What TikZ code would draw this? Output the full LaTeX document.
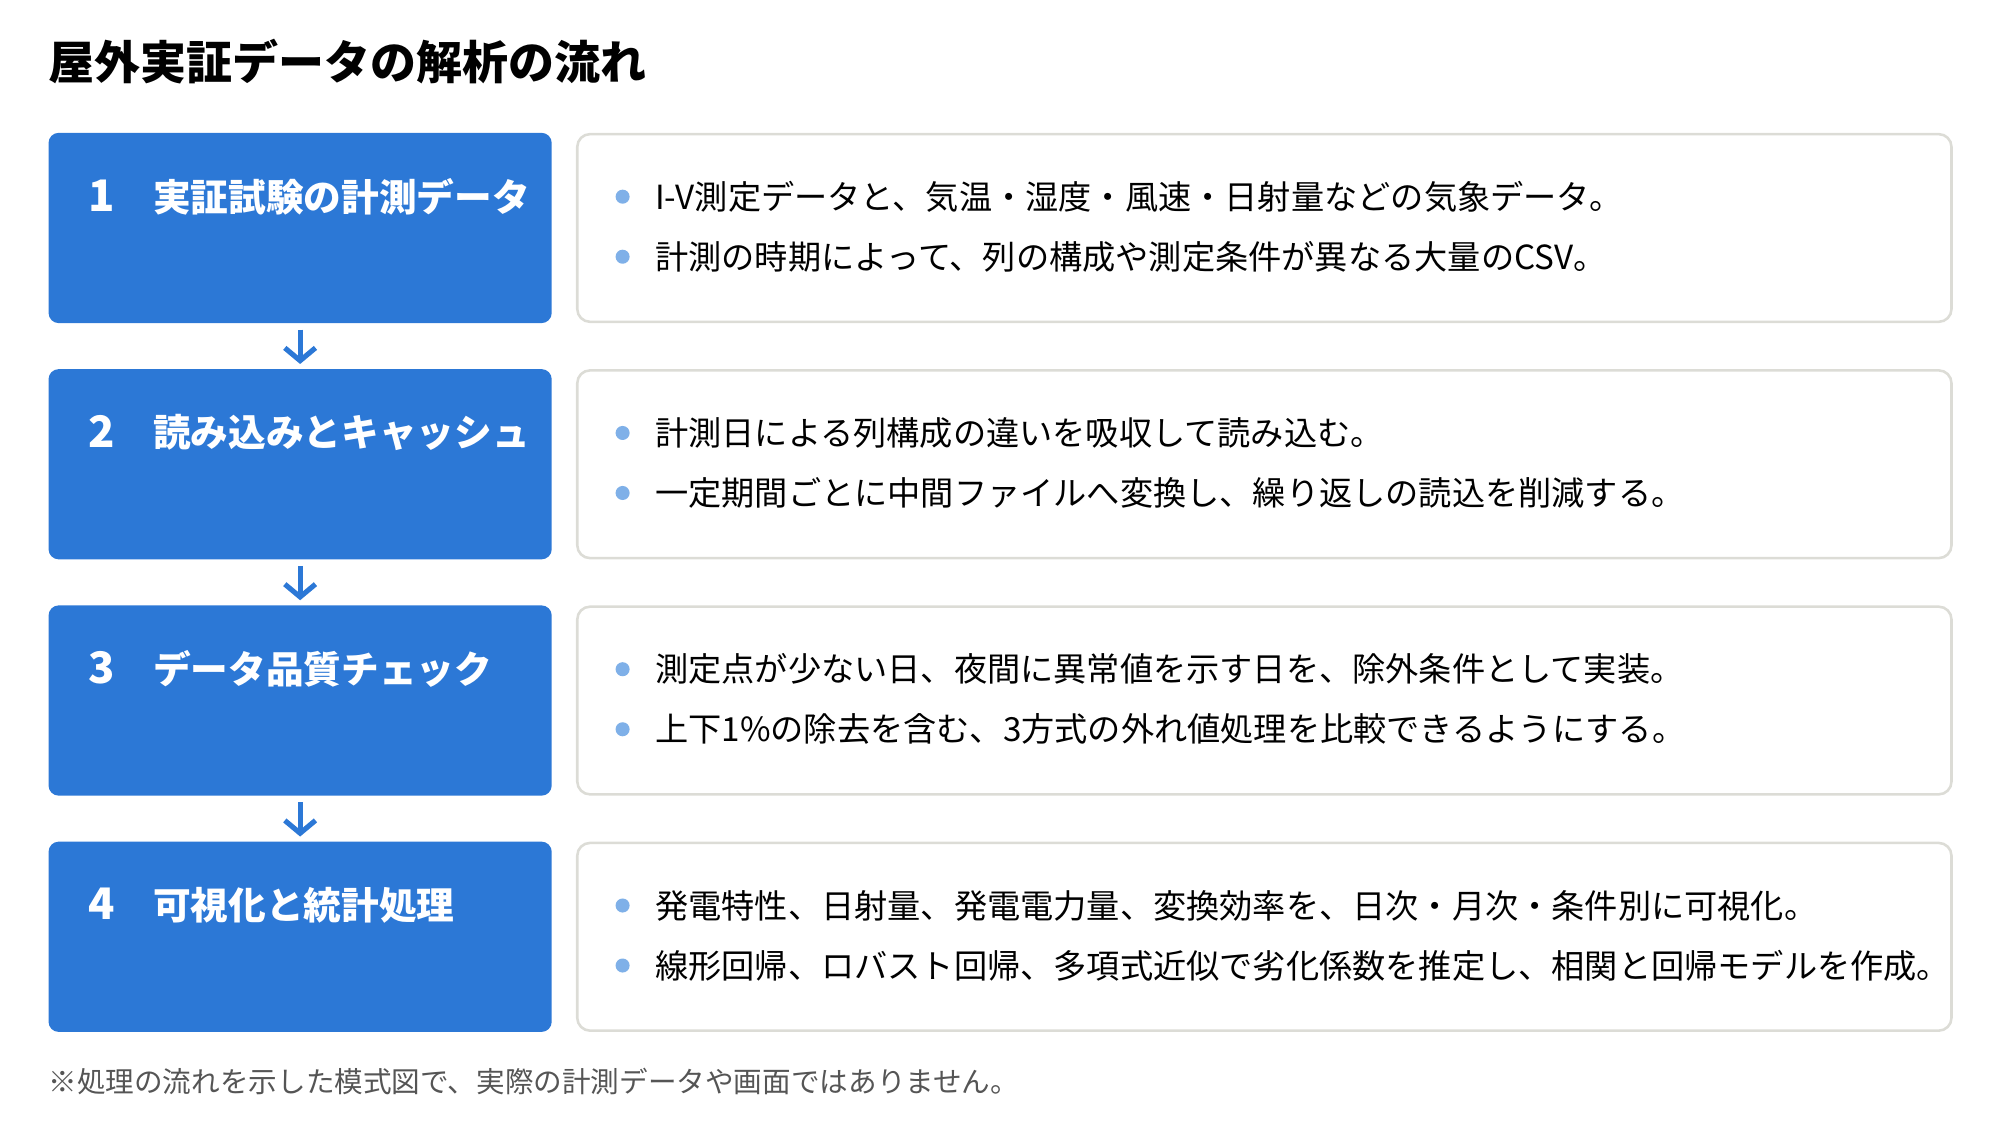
\documentclass[tikz,border=0pt]{standalone}
\usepackage{fontspec}
\setmainfont{Noto Sans CJK JP}
\usetikzlibrary{positioning, arrows.meta}
\definecolor{stepblue}{HTML}{2C78D6}
\definecolor{dotblue}{HTML}{7FB0E8}
\definecolor{panelgray}{HTML}{DCDCD6}
\definecolor{notegray}{HTML}{555555}

\begin{document}
\begin{tikzpicture}[x=1pt, y=1pt]
    % Define styles
    \tikzset{
        every node/.style={inner sep=0pt, outer sep=0pt},
        title/.style={anchor=west, font=\fontsize{36}{40}\selectfont\bfseries},
        stepbox/.style={rectangle, fill=stepblue, rounded corners=8pt, minimum width=394pt, minimum height=149pt},
        descbox/.style={rectangle, draw=panelgray, line width=2pt, fill=white, rounded corners=10pt, minimum width=1076pt, minimum height=147pt},
        num/.style={text=white, font=\fontsize{34}{36}\selectfont\bfseries},
        head/.style={anchor=west, text=white, font=\fontsize{29.5}{32}\selectfont\bfseries},
        dot/.style={circle, fill=dotblue, minimum size=11pt},
        item/.style={anchor=west, font=\fontsize{26}{28}\selectfont},
        arrow/.style={-{Straight Barb[length=10pt, width=24pt]}, line width=4pt, stepblue, shorten <=5pt, shorten >=4pt},
        note/.style={anchor=west, text=notegray, font=\fontsize{22.4}{26}\selectfont}
    }
    \useasboundingbox (0,0) rectangle (1566,-883.5);

    % Title
    \node (T) [title] at (38,-48) {屋外実証データの解析の流れ};

    % Step boxes (left) and description boxes (right)
    \node (B1) [stepbox] at (235,-178.5) {};
    \node (B2) [stepbox, below=36pt of B1] {};
    \node (B3) [stepbox, below=36pt of B2] {};
    \node (B4) [stepbox, below=36pt of B3] {};
    \node (D1) [descbox, right=20pt of B1] {};
    \node (D2) [descbox, right=20pt of B2] {};
    \node (D3) [descbox, right=20pt of B3] {};
    \node (D4) [descbox, right=20pt of B4] {};

    % Step headings
    \node (N1) [num] at ([xshift=42pt, yshift=-49pt]B1.north west) {1};
    \node (H1) [head] at ([xshift=82pt, yshift=-50pt]B1.north west) {実証試験の計測データ};
    \node (N2) [num] at ([xshift=42pt, yshift=-49pt]B2.north west) {2};
    \node (H2) [head] at ([xshift=82pt, yshift=-50pt]B2.north west) {読み込みとキャッシュ};
    \node (N3) [num] at ([xshift=42pt, yshift=-49pt]B3.north west) {3};
    \node (H3) [head] at ([xshift=82pt, yshift=-50pt]B3.north west) {データ品質チェック};
    \node (N4) [num] at ([xshift=42pt, yshift=-49pt]B4.north west) {4};
    \node (H4) [head] at ([xshift=82pt, yshift=-50pt]B4.north west) {可視化と統計処理};

    % Bullet items
    \node (I1a) [item] at ([xshift=61pt, yshift=-49pt]D1.north west) {I-V測定データと、気温・湿度・風速・日射量などの気象データ。};
    \node (I1b) [item] at ([xshift=61pt, yshift=-96pt]D1.north west) {計測の時期によって、列の構成や測定条件が異なる大量のCSV。};
    \node (I2a) [item] at ([xshift=61pt, yshift=-49pt]D2.north west) {計測日による列構成の違いを吸収して読み込む。};
    \node (I2b) [item] at ([xshift=61pt, yshift=-96pt]D2.north west) {一定期間ごとに中間ファイルへ変換し、繰り返しの読込を削減する。};
    \node (I3a) [item] at ([xshift=61pt, yshift=-49pt]D3.north west) {測定点が少ない日、夜間に異常値を示す日を、除外条件として実装。};
    \node (I3b) [item] at ([xshift=61pt, yshift=-96pt]D3.north west) {上下1\%の除去を含む、3方式の外れ値処理を比較できるようにする。};
    \node (I4a) [item] at ([xshift=61pt, yshift=-49pt]D4.north west) {発電特性、日射量、発電電力量、変換効率を、日次・月次・条件別に可視化。};
    \node (I4b) [item] at ([xshift=61pt, yshift=-96pt]D4.north west) {線形回帰、ロバスト回帰、多項式近似で劣化係数を推定し、相関と回帰モデルを作成。};
    \node (P1a) [dot, left=20pt of I1a] {};
    \node (P1b) [dot, left=20pt of I1b] {};
    \node (P2a) [dot, left=20pt of I2a] {};
    \node (P2b) [dot, left=20pt of I2b] {};
    \node (P3a) [dot, left=20pt of I3a] {};
    \node (P3b) [dot, left=20pt of I3b] {};
    \node (P4a) [dot, left=20pt of I4a] {};
    \node (P4b) [dot, left=20pt of I4b] {};

    % Footnote
    \node (F) [note] at (38,-847) {※処理の流れを示した模式図で、実際の計測データや画面ではありません。};

    % Arrows between steps
    \draw [arrow] (B1) -- (B2);
    \draw [arrow] (B2) -- (B3);
    \draw [arrow] (B3) -- (B4);

\end{tikzpicture}
\end{document}
